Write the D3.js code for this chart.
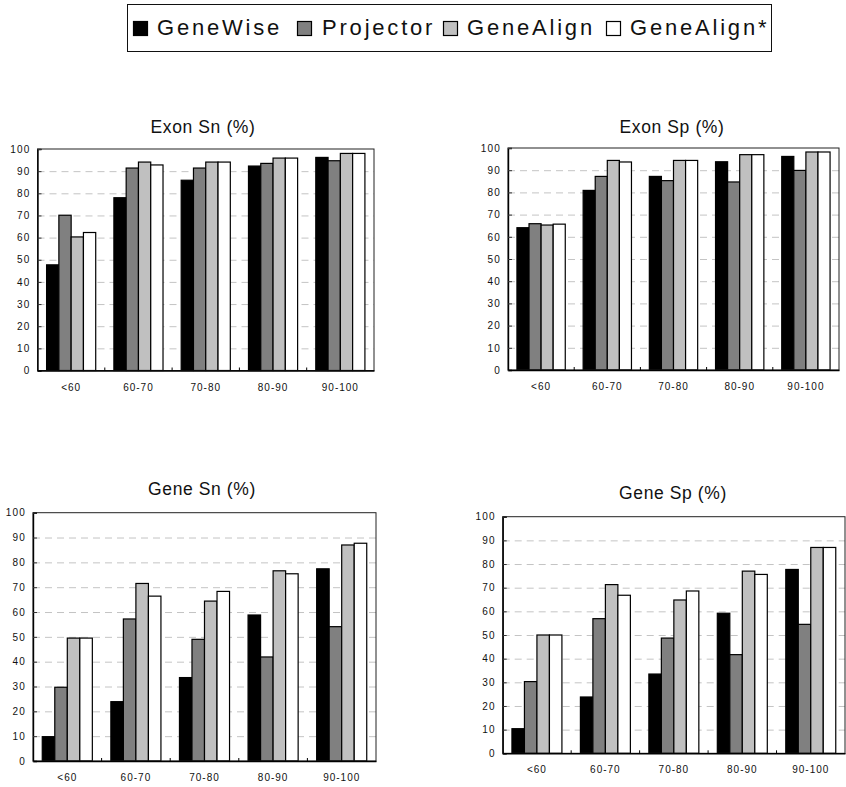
<!DOCTYPE html>
<html><head><meta charset="utf-8">
<script src="https://cdn.jsdelivr.net/npm/d3@7"></script>
<style>
body{margin:0;background:#fff}
svg{display:block}
text{font-family:"Liberation Sans",Arial,Helvetica,sans-serif;fill:#111}
</style>
</head><body>
<svg id="chart" width="846" height="787"></svg>
<script>
// ---------- DATA ----------
const categories = ["<60", "60-70", "70-80", "80-90", "90-100"];
const seriesNames = ["GeneWise", "Projector", "GeneAlign", "GeneAlign*"];
const seriesColors = ["#000000", "#808080", "#c0c0c0", "#ffffff"];
const yTicks = [0, 10, 20, 30, 40, 50, 60, 70, 80, 90, 100];
const panelTitles = ["Exon Sn (%)", "Exon Sp (%)", "Gene Sn (%)", "Gene Sp (%)"];
// rows = series (GeneWise, Projector, GeneAlign, GeneAlign*), columns = categories
const exonSn = [
  [47.7, 78.0, 85.9, 92.3, 96.2],
  [70.1, 91.4, 91.4, 93.5, 94.7],
  [60.3, 94.1, 94.1, 95.9, 98.0],
  [62.3, 92.8, 94.1, 95.9, 98.0]
];
const exonSp = [
  [64.1, 80.9, 87.2, 93.8, 96.2],
  [65.9, 87.2, 85.3, 84.7, 89.9],
  [65.3, 94.4, 94.4, 97.0, 98.2],
  [65.7, 93.7, 94.4, 97.0, 98.2]
];
const geneSn = [
  [9.8, 23.9, 33.6, 58.8, 77.4],
  [29.7, 57.2, 49.0, 41.9, 54.1],
  [49.5, 71.5, 64.4, 76.6, 87.0],
  [49.5, 66.4, 68.3, 75.4, 87.7]
];
const geneSp = [
  [10.4, 23.8, 33.5, 59.2, 77.7],
  [30.3, 56.9, 48.7, 41.7, 54.5],
  [50.0, 71.3, 64.8, 77.0, 87.0],
  [50.0, 66.8, 68.6, 75.6, 87.0]
];

// ---------- LAYOUT ----------
const panels = [
  {title: panelTitles[0], values: exonSn, left: 37.5, right: 374, top: 149, bottom: 370.5, tx: 203, ty: 133},
  {title: panelTitles[1], values: exonSp, left: 508, right: 839, top: 148, bottom: 370, tx: 672, ty: 133},
  {title: panelTitles[2], values: geneSn, left: 33, right: 376, top: 512.7, bottom: 761, tx: 202, ty: 495},
  {title: panelTitles[3], values: geneSp, left: 502.7, right: 845, top: 516.7, bottom: 753.3, tx: 673, ty: 499}
];

const svg = d3.select("#chart");

panels.forEach(p => {
  const g = svg.append("g");
  const x0 = d3.scaleBand().domain(categories).range([p.left, p.right]).padding(0);
  const bw = x0.bandwidth();
  const groupFrac = 0.73;
  const x1 = d3.scaleBand().domain(seriesNames).range([bw * (1 - groupFrac) / 2, bw * (1 + groupFrac) / 2]).padding(0);
  const y = d3.scaleLinear().domain([0, 100]).range([p.bottom, p.top]);

  // gridlines
  const grid = g.append("g").attr("transform", `translate(${p.left},0)`)
    .call(d3.axisLeft(y).tickValues(yTicks.filter(v => v > 0 && v < 100)).tickSize(-(p.right - p.left)).tickFormat(""));
  grid.select(".domain").remove();
  grid.selectAll(".tick line").attr("stroke", "#c4c4c4").attr("stroke-dasharray", "7,5").attr("stroke-width", 1);

  // bars
  const data = [];
  categories.forEach((c, ci) => seriesNames.forEach((s, si) => data.push({c, s, si, v: p.values[si][ci]})));
  g.append("g").selectAll("rect").data(data).join("rect")
    .attr("x", d => x0(d.c) + x1(d.s))
    .attr("y", d => y(d.v))
    .attr("width", x1.bandwidth())
    .attr("height", d => y(0) - y(d.v))
    .attr("fill", d => seriesColors[d.si])
    .attr("stroke", "#000").attr("stroke-width", 1.2);

  // plot frame
  g.append("rect").attr("x", p.left).attr("y", p.top)
    .attr("width", p.right - p.left).attr("height", p.bottom - p.top)
    .attr("fill", "none").attr("stroke", "#222").attr("stroke-width", 1);

  // y axis
  const ya = g.append("g").attr("transform", `translate(${p.left},0)`)
    .call(d3.axisLeft(y).tickValues(yTicks).tickSize(-4).tickPadding(7).tickFormat(d3.format("d")));
  ya.select(".domain").attr("stroke", "#000").attr("stroke-width", 1.4);
  ya.selectAll(".tick line").attr("stroke", "#333");
  ya.selectAll(".tick text").attr("font-size", 10).attr("letter-spacing", "1.2px")
    .attr("font-family", '"Liberation Sans",Arial,sans-serif').attr("fill", "#111");

  // x axis
  const xa = g.append("g").attr("transform", `translate(0,${p.bottom})`)
    .call(d3.axisBottom(x0).tickSize(0).tickPadding(13));
  xa.select(".domain").attr("stroke", "#000").attr("stroke-width", 1.4);
  xa.selectAll(".tick text").attr("font-size", 10).attr("letter-spacing", "1px")
    .attr("font-family", '"Liberation Sans",Arial,sans-serif').attr("fill", "#111");
  // category boundary ticks (inside)
  g.append("g").selectAll("line").data(categories.slice(1)).join("line")
    .attr("x1", d => x0(d)).attr("x2", d => x0(d))
    .attr("y1", p.bottom).attr("y2", p.bottom - 3)
    .attr("stroke", "#000").attr("stroke-width", 1);

  // title
  g.append("text").attr("x", p.tx).attr("y", p.ty).attr("text-anchor", "middle")
    .attr("font-size", 17.5).attr("letter-spacing", "0.6px").text(p.title);
});

// ---------- LEGEND ----------
const legend = svg.append("g");
legend.append("rect").attr("x", 127.5).attr("y", 4.5).attr("width", 644).attr("height", 47)
  .attr("fill", "#fff").attr("stroke", "#111").attr("stroke-width", 1);
const legX = d3.scaleOrdinal().domain(seriesNames).range([133, 297, 443, 606]);
const items = legend.selectAll("g.item").data(seriesNames).join("g").attr("class", "item")
  .attr("transform", d => `translate(${legX(d)},0)`);
items.append("rect").attr("x", 0.5).attr("y", 21.5).attr("width", 14).attr("height", 14)
  .attr("fill", (d, i) => seriesColors[i]).attr("stroke", "#000").attr("stroke-width", 1.2);
items.append("text").attr("x", (d, i) => [24, 25, 24, 24][i]).attr("y", 35)
  .attr("font-size", 22).attr("letter-spacing", "2.8px").text(d => d);
</script>
</body></html>
